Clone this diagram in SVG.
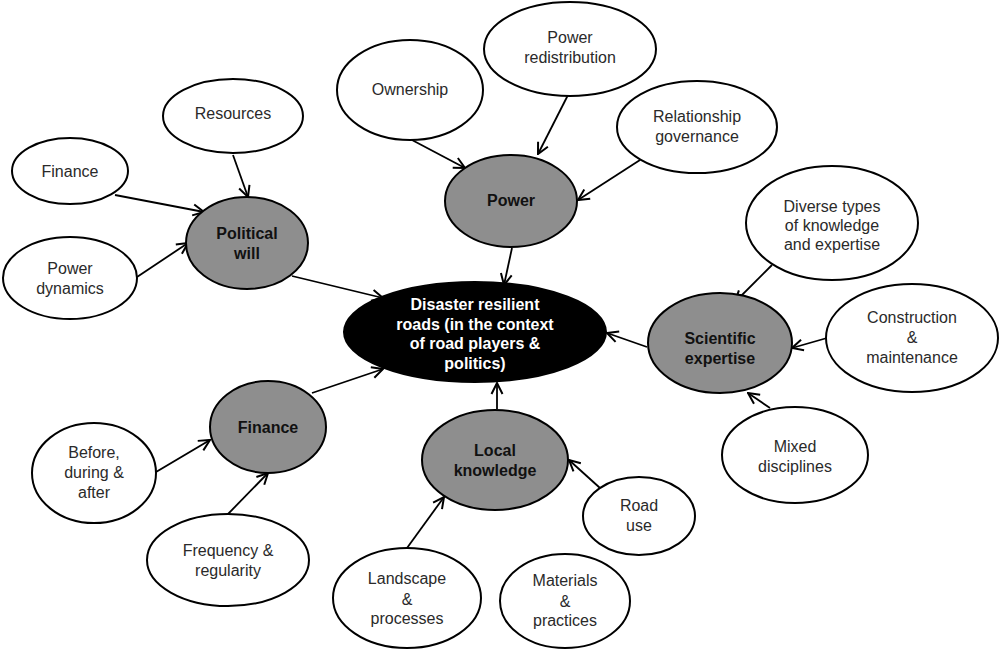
<svg xmlns="http://www.w3.org/2000/svg" width="1000" height="651" viewBox="0 0 1000 651">
<defs>
<marker id="arr" markerUnits="userSpaceOnUse" markerWidth="14" markerHeight="14" viewBox="0 0 14 14" refX="13" refY="7" orient="auto">
<path d="M2,1.5 L13,7 L2,12.5" fill="none" stroke="#000" stroke-width="2"/>
</marker>
</defs>
<style>
.w{fill:#fff;stroke:#000;stroke-width:2}
.g{fill:#8e8e8e;stroke:#000;stroke-width:2}
.b{fill:#000;stroke:#000;stroke-width:2}
text{font-family:"Liberation Sans",Arial,sans-serif;font-size:16px;text-anchor:middle;fill:#2a2a2a}
.bt{font-weight:bold;fill:#111}
.ct{font-weight:bold;fill:#fff;font-size:16px}
.c line{stroke:#000;stroke-width:1.8;marker-end:url(#arr)}
</style>
<rect width="1000" height="651" fill="#fff"/>
<g class="c" id="connectors">
<line x1="233" y1="155" x2="248" y2="197"/>
<line x1="115" y1="195" x2="204" y2="212"/>
<line x1="137" y1="277" x2="188" y2="243"/>
<line x1="292" y1="276" x2="383" y2="298"/>
<line x1="412" y1="140" x2="465" y2="168"/>
<line x1="568" y1="95" x2="538" y2="154"/>
<line x1="640" y1="160" x2="578" y2="200"/>
<line x1="512" y1="248" x2="504" y2="285"/>
<line x1="772" y1="265" x2="735" y2="302"/>
<line x1="827" y1="338" x2="792" y2="348"/>
<line x1="770" y1="408" x2="748" y2="393"/>
<line x1="647" y1="347" x2="607" y2="333"/>
<line x1="312" y1="393" x2="383" y2="369"/>
<line x1="156" y1="472" x2="210" y2="440"/>
<line x1="228" y1="514" x2="268" y2="473"/>
<line x1="497" y1="409" x2="497" y2="383"/>
<line x1="407" y1="548" x2="444" y2="497"/>
<line x1="600" y1="488" x2="569" y2="460"/>
</g>
<g id="center"><ellipse class="b" cx="475" cy="332" rx="131" ry="50"/>
<text class="ct" x="475" y="310">Disaster resilient</text><text class="ct" x="475" y="329.5">roads (in the context</text><text class="ct" x="475" y="349">of road players &amp;</text><text class="ct" x="475" y="368.5">politics)</text></g>
<g id="political-will"><ellipse class="g" cx="247" cy="243" rx="61" ry="46"/><text class="bt" x="247" y="239">Political</text><text class="bt" x="247" y="259">will</text></g>
<g id="finance-top"><ellipse class="w" cx="70" cy="171" rx="58" ry="33"/><text x="70" y="177">Finance</text></g>
<g id="resources"><ellipse class="w" cx="233" cy="116" rx="70" ry="37"/><text x="233" y="119">Resources</text></g>
<g id="power-dynamics"><ellipse class="w" cx="70" cy="278" rx="67" ry="41"/><text x="70" y="274">Power</text><text x="70" y="294">dynamics</text></g>
<g id="ownership"><ellipse class="w" cx="410" cy="90" rx="73" ry="50"/><text x="410" y="95">Ownership</text></g>
<g id="power-redistribution"><ellipse class="w" cx="570" cy="49" rx="86" ry="47"/><text x="570" y="43">Power</text><text x="570" y="63">redistribution</text></g>
<g id="relationship-governance"><ellipse class="w" cx="697" cy="127" rx="80" ry="46"/><text x="697" y="122">Relationship</text><text x="697" y="142">governance</text></g>
<g id="power"><ellipse class="g" cx="511" cy="201" rx="66" ry="46"/><text class="bt" x="511" y="206">Power</text></g>
<g id="diverse"><ellipse class="w" cx="832" cy="223" rx="86" ry="57"/><text x="832" y="212">Diverse types</text><text x="832" y="231">of knowledge</text><text x="832" y="250">and expertise</text></g>
<g id="scientific-expertise"><ellipse class="g" cx="720" cy="343" rx="72" ry="50"/><text class="bt" x="720" y="344">Scientific</text><text class="bt" x="720" y="364">expertise</text></g>
<g id="construction"><ellipse class="w" cx="912" cy="338" rx="86" ry="54"/><text x="912" y="323">Construction</text><text x="912" y="343">&amp;</text><text x="912" y="363">maintenance</text></g>
<g id="mixed"><ellipse class="w" cx="795" cy="455" rx="73" ry="48"/><text x="795" y="452">Mixed</text><text x="795" y="472">disciplines</text></g>
<g id="finance"><ellipse class="g" cx="268" cy="427" rx="58" ry="46"/><text class="bt" x="268" y="433">Finance</text></g>
<g id="before"><ellipse class="w" cx="94" cy="473" rx="62" ry="50"/><text x="94" y="458">Before,</text><text x="94" y="478">during &amp;</text><text x="94" y="498">after</text></g>
<g id="frequency"><ellipse class="w" cx="228" cy="560" rx="81" ry="46"/><text x="228" y="556">Frequency &amp;</text><text x="228" y="576">regularity</text></g>
<g id="local-knowledge"><ellipse class="g" cx="495" cy="460" rx="73" ry="50"/><text class="bt" x="495" y="456">Local</text><text class="bt" x="495" y="476">knowledge</text></g>
<g id="road-use"><ellipse class="w" cx="639" cy="516" rx="56" ry="39"/><text x="639" y="511">Road</text><text x="639" y="531">use</text></g>
<g id="landscape"><ellipse class="w" cx="407" cy="598" rx="74" ry="50"/><text x="407" y="584">Landscape</text><text x="407" y="605">&amp;</text><text x="407" y="624">processes</text></g>
<g id="materials"><ellipse class="w" cx="565" cy="601" rx="65" ry="47"/><text x="565" y="586">Materials</text><text x="565" y="607">&amp;</text><text x="565" y="626">practices</text></g>
</svg>
